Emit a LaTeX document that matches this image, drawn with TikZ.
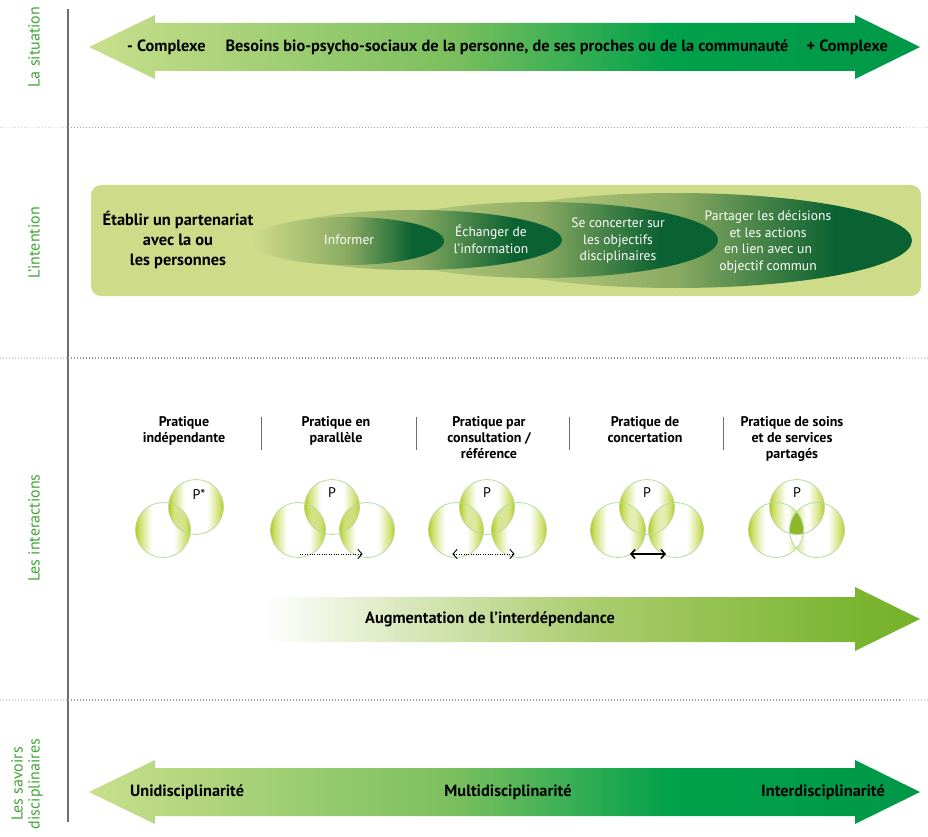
\documentclass[tikz,border=0pt]{standalone}
\usepackage{fontspec}
\setmainfont{PT Sans}
\usetikzlibrary{arrows.meta}
\definecolor{lblgreen}{HTML}{3FA535}
\definecolor{boxgreen}{HTML}{CEDC89}
\definecolor{darkell}{HTML}{0A6131}
\definecolor{midell}{HTML}{8AAA62}
\definecolor{arrA}{HTML}{C9DF8C}
\definecolor{arrB}{HTML}{7ABF5E}
\definecolor{arrC}{HTML}{00A14B}
\definecolor{arrD}{HTML}{009848}
\definecolor{augA}{HTML}{DCE9C0}
\definecolor{augB}{HTML}{AACD6E}
\definecolor{augC}{HTML}{7BB531}
\definecolor{augD}{HTML}{77B22B}
\definecolor{circG}{HTML}{B0CB14}
\definecolor{circLine}{HTML}{B7DBA0}
\definecolor{tripG}{HTML}{8DB82A}
\definecolor{rule}{HTML}{6E6E6E}
\pgfdeclarehorizontalshading{bigarrow}{100bp}{color(0bp)=(arrA); color(25bp)=(arrA); color(47bp)=(arrB); color(60bp)=(arrC); color(75bp)=(arrD); color(100bp)=(arrD)}
\pgfdeclarehorizontalshading{augshade}{100bp}{color(0bp)=(white); color(25bp)=(white); color(35bp)=(augA); color(50bp)=(augB); color(70bp)=(augC); color(75bp)=(augD); color(100bp)=(augD)}
\pgfdeclarehorizontalshading{ellshade}{100bp}{color(0bp)=(boxgreen); color(25bp)=(boxgreen); color(50bp)=(midell); color(67bp)=(darkell); color(75bp)=(darkell); color(100bp)=(darkell)}
\pgfdeclarehorizontalshading{circshade}{100bp}{color(0bp)=(circG); color(25bp)=(circG); color(29bp)=(circG!60!white); color(40bp)=(white); color(60bp)=(white); color(71bp)=(circG!60!white); color(75bp)=(circG); color(100bp)=(circG)}
\begin{document}
\begin{tikzpicture}[x=1pt,y=-1pt,
  sidelbl/.style={font=\fontsize{16}{17}\selectfont, text=lblgreen, rotate=90, align=center, inner sep=0pt},
  arrtxt/.style={font=\bfseries\fontsize{16.3}{19}\selectfont, inner sep=0pt},
  parttxt/.style={font=\bfseries\fontsize{16.4}{20}\selectfont, align=center, inner sep=0pt},
  elltxt/.style={font=\fontsize{13.6}{16.5}\selectfont, text=white, align=center, inner sep=0pt},
  headtxt/.style={font=\bfseries\fontsize{14}{16}\selectfont, align=center, inner sep=0pt, anchor=north},
  ptxt/.style={font=\fontsize{14}{15}\selectfont, inner sep=0pt},
  dotline/.style={line width=1.2pt, dash pattern=on 1.2pt off 1.8pt},
  venn/.style={shading=circshade},
  vennline/.style={draw=circLine, line width=0.8pt},
  dotarrow/.style={line width=0.9pt, dash pattern=on 1pt off 1.4pt},
  barb/.style={line width=0.9pt, line cap=round, line join=miter}
]
\useasboundingbox (0,0) rectangle (928,837);

% rules
\draw[rule, line width=1.1pt] (68,9) -- (68,822);
\foreach \yy in {127.5,358,700}{
  \draw[dotline, gray!35] (0,\yy) -- (68,\yy);
  \draw[dotline, gray!80] (68,\yy) -- (900,\yy);
  \draw[dotline, gray!35] (900,\yy) -- (928,\yy);
}

% side labels
\node[sidelbl] (lsit) at (34,47) {La situation};
\node[sidelbl] (lint) at (34,243) {L'intention};
\node[sidelbl] (linter) at (34,528) {Les interactions};
\node[sidelbl] (lsav) at (27,784) {Les savoirs\\disciplinaires};

% top arrow
\shade[shading=bigarrow] (89,47) -- (155,15) -- (155,23) -- (855,23) -- (855,15) -- (920,47) -- (855,79) -- (855,71) -- (155,71) -- (155,79) -- cycle;
\node[arrtxt, anchor=west] (tminus) at (127,47) {- Complexe};
\node[arrtxt] (tbes) at (507,47) {Besoins bio-psycho-sociaux de la personne, de ses proches ou de la communauté};
\node[arrtxt, anchor=east] (tplus) at (888,47) {+ Complexe};

% intention box
\fill[boxgreen, rounded corners=10pt] (91,185) rectangle (921,296);
\shade[shading=ellshade] (676,240.5) ellipse [x radius=236pt, y radius=47.5pt];
\shade[shading=ellshade] (540,240) ellipse [x radius=178pt, y radius=38pt];
\shade[shading=ellshade] (414,240) ellipse [x radius=148pt, y radius=30pt];
\shade[shading=ellshade] (348,241) ellipse [x radius=96pt, y radius=24pt];
\node[parttxt] (etab) at (178,240) {Établir un partenariat\\avec la ou\\les personnes};
\node[elltxt] (einf) at (349,240) {Informer};
\node[elltxt] (eech) at (491,239) {Échanger de\\l'information};
\node[elltxt] (econ) at (618,241) {Se concerter sur\\les objectifs\\disciplinaires};
\node[elltxt] (epar) at (768,242) {Partager les décisions\\et les actions\\en lien avec un\\objectif commun};

% interactions headings
\node[headtxt] (h1) at (184,416) {Pratique\\indépendante};
\node[headtxt] (h2) at (336,416) {Pratique en\\parallèle};
\node[headtxt] (h3) at (489,416) {Pratique par\\consultation /\\référence};
\node[headtxt] (h4) at (645,416) {Pratique de\\concertation};
\node[headtxt] (h5) at (792,416) {Pratique de soins\\et de services\\partagés};
\foreach \xx in {261,416,569,723}{ \draw[rule, line width=1pt] (\xx,417) -- (\xx,450); }

% circle centres
\coordinate (g1l) at (163,530); \coordinate (g1t) at (196,507);
\coordinate (g2l) at (298,530); \coordinate (g2t) at (332,507); \coordinate (g2r) at (367,530);
\coordinate (g3l) at (456,530); \coordinate (g3t) at (487,507); \coordinate (g3r) at (519,530);
\coordinate (g4l) at (618,530); \coordinate (g4t) at (647,507); \coordinate (g4r) at (676,530);
\coordinate (g5l) at (776,530); \coordinate (g5t) at (797,507); \coordinate (g5r) at (817,530);

\begin{scope}[blend mode=multiply]
\foreach \c in {g1l,g1t,g2l,g2t,g2r,g3l,g3t,g3r,g4l,g4t,g4r,g5l,g5t,g5r}{
  \shade[venn] (\c) circle[radius=27.5pt];
}
\end{scope}
\begin{scope}
  \clip (g5l) circle[radius=27.5pt];
  \clip (g5r) circle[radius=27.5pt];
  \fill[white] (g5l) circle[radius=27.5pt];
  \clip (g5t) circle[radius=27.5pt];
  \fill[tripG] (g5t) circle[radius=27.5pt];
\end{scope}
\foreach \c in {g1l,g1t,g2l,g2t,g2r,g3l,g3t,g3r,g4l,g4t,g4r,g5l,g5t,g5r}{
  \draw[vennline] (\c) circle[radius=27.5pt];
}
\node[ptxt] (p1) at (199,494) {P*};
\node[ptxt] (p2) at (332,493) {P};
\node[ptxt] (p3) at (487,493) {P};
\node[ptxt] (p4) at (647,493) {P};
\node[ptxt] (p5) at (797,493) {P};

\coordinate (a2s) at (300,554); \coordinate (a2e) at (362,554);
\coordinate (a3s) at (453,554); \coordinate (a3e) at (514,554);
\coordinate (a4s) at (630,554); \coordinate (a4e) at (666,554);
\draw[dotarrow] (a2s) -- ([xshift=-1pt]a2e);
\draw[barb] ([xshift=-4pt,yshift=-4.5pt]a2e) -- (a2e) -- ([xshift=-4pt,yshift=4.5pt]a2e);
\draw[dotarrow] ([xshift=1pt]a3s) -- ([xshift=-1pt]a3e);
\draw[barb] ([xshift=4pt,yshift=-4.5pt]a3s) -- (a3s) -- ([xshift=4pt,yshift=4.5pt]a3s);
\draw[barb] ([xshift=-4pt,yshift=-4.5pt]a3e) -- (a3e) -- ([xshift=-4pt,yshift=4.5pt]a3e);
\draw[line width=1.6pt, {Straight Barb[length=4pt,width=9pt]}-{Straight Barb[length=4pt,width=9pt]}] (a4s) -- (a4e);

% augmentation arrow
\shade[shading=augshade] (265,597) -- (855,597) -- (855,587) -- (920,619) -- (855,651) -- (855,642) -- (265,642) -- cycle;
\node[arrtxt] (taug) at (490,619) {Augmentation de l'interdépendance};

% bottom arrow
\shade[shading=bigarrow] (89,792) -- (155,760) -- (155,768) -- (855,768) -- (855,760) -- (920,792) -- (855,824) -- (855,816) -- (155,816) -- (155,824) -- cycle;
\node[arrtxt, anchor=west] (buni) at (130,792) {Unidisciplinarité};
\node[arrtxt] (bmul) at (508,792) {Multidisciplinarité};
\node[arrtxt, anchor=east] (bint) at (885,792) {Interdisciplinarité};
\end{tikzpicture}
\end{document}
